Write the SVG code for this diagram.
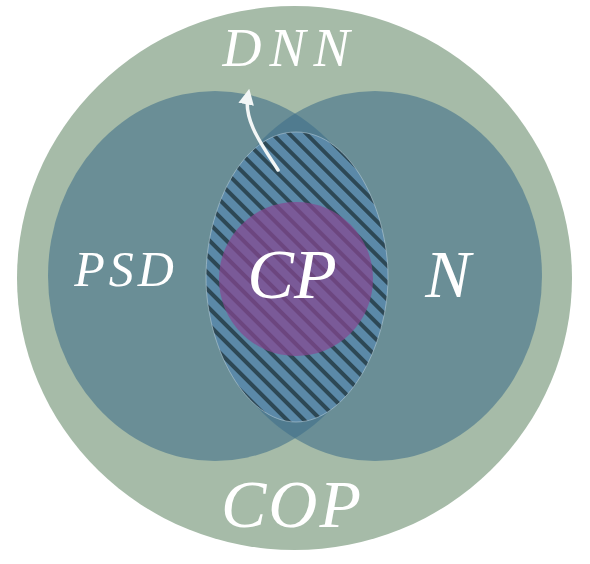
<svg xmlns="http://www.w3.org/2000/svg" width="590" height="564" viewBox="0 0 590 564">
  <style>
    .lbl { font-family: "Liberation Serif", "DejaVu Serif", serif; font-style: italic; fill: #ffffff; text-anchor: middle; }
    .set { fill: #3e6f89; fill-opacity: 0.58; }
  </style>
  <defs>
    <pattern id="hatch" patternUnits="userSpaceOnUse" width="12" height="12" patternTransform="rotate(-45)">
      <rect x="0" y="0" width="12" height="12" fill="#5b89a8"/>
      <rect x="0" y="0" width="4" height="12" fill="#2d4855"/>
    </pattern>
    <marker id="ah" viewBox="0 0 10 10" refX="6" refY="5" markerWidth="4.5" markerHeight="4.5" orient="auto" markerUnits="strokeWidth">
      <path d="M0,0 L10,5 L0,10 Z" fill="#f2f6f6"/>
    </marker>
  </defs>

  <g id="COP">
    <ellipse cx="294.5" cy="278" rx="277.5" ry="272" fill="#a6bba8"/>
    <text class="lbl" x="292" y="527" font-size="68" letter-spacing="2">COP</text>
  </g>

  <g id="PSD">
    <ellipse class="set" cx="215" cy="276" rx="167" ry="185"/>
    <text class="lbl" x="126" y="286" font-size="50" letter-spacing="4">PSD</text>
  </g>

  <g id="N">
    <ellipse class="set" cx="375" cy="276" rx="167" ry="185"/>
    <text class="lbl" x="448" y="297" font-size="68">N</text>
  </g>

  <g id="DNN">
    <path d="M296,132 C352,132 388,212 388,277 C388,348 346,422 296,422 C246,422 206,348 206,277 C206,212 240,132 296,132 Z" fill="url(#hatch)" stroke="#c3d6e0" stroke-opacity="0.5" stroke-width="1"/>
    <text class="lbl" x="290" y="66" font-size="54" letter-spacing="8">DNN</text>
  </g>

  <g id="CP">
    <circle cx="296" cy="279" r="77" fill="#874692" fill-opacity="0.7"/>
    <text class="lbl" x="292" y="298" font-size="70">CP</text>
  </g>

  <g id="connectors">
    <path d="M278,170 C262,145 243,120 248,95" fill="none" stroke="#f2f6f6" stroke-width="3.5" stroke-linecap="round" marker-end="url(#ah)"/>
  </g>
</svg>
